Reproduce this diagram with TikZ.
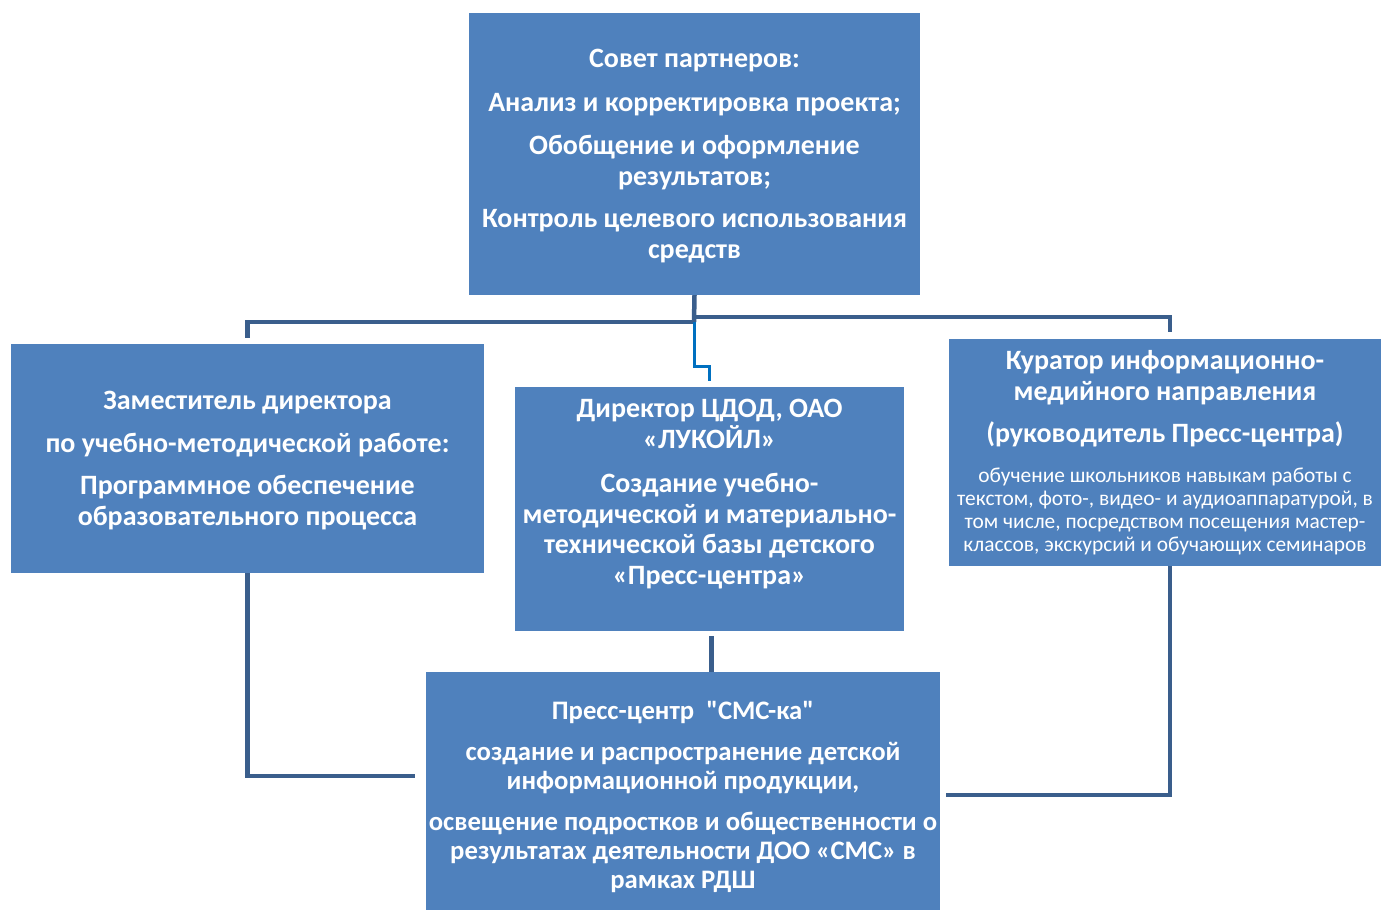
\documentclass[tikz,border=0pt]{standalone}
\usepackage{fontspec}
\setmainfont{Carlito}[Ligatures=TeXOff]
\usetikzlibrary{positioning}

\definecolor{boxblue}{HTML}{4F81BD}
\definecolor{linedark}{HTML}{3A5E8C}
\definecolor{lineblue}{HTML}{0070C0}

\newcommand\notefont{\mdseries\fontsize{21.4}{23}\selectfont}

\tikzset{
  orgbox/.style={rectangle, fill=boxblue, text=white, align=center, inner sep=2pt,
    font=\bfseries\fontsize{28}{30.5}\selectfont},
  conn/.style={draw=linedark, line width=4.5pt},
  jog/.style={draw=lineblue, line width=3pt}
}

\begin{document}
\begin{tikzpicture}[x=1pt, y=-1pt]
  \useasboundingbox (0,0) rectangle (1381,910);

  % boxes
  \node (council) [orgbox, minimum width=451, minimum height=282] at (694.5,154)
    {\rule{0pt}{23pt}Совет партнеров:\\[13pt]
     Анализ и корректировка проекта;\\[13pt]
     Обобщение и оформление\\ результатов;\\[12pt]
     Контроль целевого использования\\ средств};
  \node (deputy) [orgbox, minimum width=473, minimum height=229] at (247.5,458.5)
    {\rule{0pt}{22pt}Заместитель директора\\[12pt]
     по учебно-методической работе:\\[12pt]
     Программное обеспечение\\ образовательного процесса};
  \node (director) [orgbox, minimum width=389, minimum height=244] at (709.5,509)
    {Директор ЦДОД, ОАО\\ «ЛУКОЙЛ»\\[14pt]
     Создание учебно-\\ методической и материально-\\ технической базы детского\\ «Пресс-центра»\\[4pt] \mbox{}};
  \node (curator) [orgbox, minimum width=432, minimum height=227,
    font=\bfseries\fontsize{28}{31}\selectfont] at (1165,452.5)
    {Куратор информационно-\\ медийного направления\\[11pt]
     (руководитель Пресс-центра)\\[9pt]
     \notefont обучение школьников навыкам работы с\\[-8pt]
     \notefont текстом, фото-, видео- и аудиоаппаратурой, в\\[-8pt]
     \notefont том числе, посредством посещения мастер-\\[-8pt]
     \notefont классов, экскурсий и обучающих семинаров};
  \node (press) [orgbox, minimum width=514, minimum height=238,
    font=\bfseries\fontsize{26.7}{29}\selectfont] at (683,791)
    {\rule{0pt}{30pt}Пресс-центр\ \ "СМС-ка"\\[12pt]
     создание и распространение детской\\ информационной продукции,\\[12pt]
     освещение подростков и общественности о\\ результатах деятельности ДОО «СМС» в\\ рамках РДШ};

  % connectors from the council
  \coordinate (hub) at (694,322);
  \draw[conn] (council.south) -- (hub);
  \draw[conn] (hub) -| ([yshift=6pt]deputy.north);
  \draw[conn] ([yshift=5pt]hub) -| ([xshift=5pt, yshift=7pt]curator.north);
  \draw[jog] (hub) -- ++(0,44) -| ([yshift=6pt]director.north);

  % connectors to the press centre
  \coordinate (pressleft) at (415,776);
  \coordinate (pressright) at (946,795);
  \draw[conn] (deputy.south) |- (pressleft);
  \draw[conn] ([xshift=5pt]curator.south) |- (pressright);
  \draw[conn] ([xshift=2pt, yshift=-5pt]director.south) -- ([xshift=2pt]director.south |- press.north);
\end{tikzpicture}
\end{document}
